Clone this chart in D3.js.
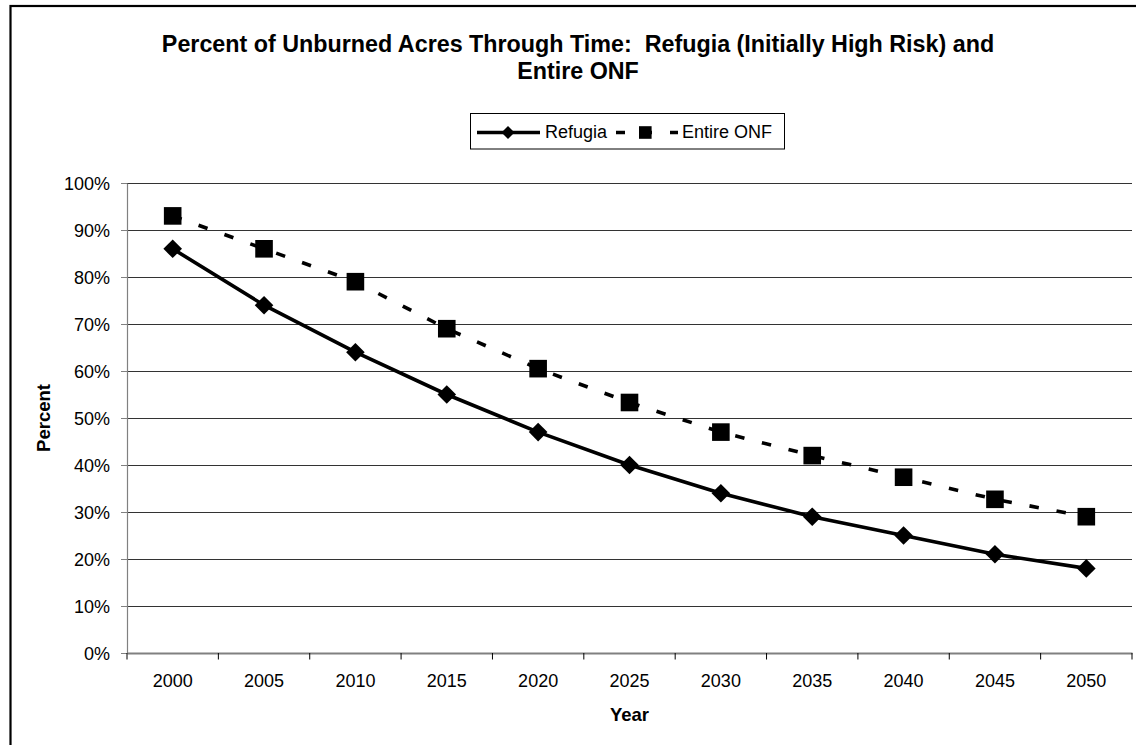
<!DOCTYPE html>
<html>
<head>
<meta charset="utf-8">
<script src="https://cdn.jsdelivr.net/npm/d3@7"></script>
<style>
  html, body { margin: 0; padding: 0; background: #fff; }
  svg { display: block; font-family: Arial, "Liberation Sans", sans-serif; }
</style>
</head>
<body>
<svg id="chart" width="1136" height="745"></svg>
<script>
// Year categories along the x axis
const years = ["2000", "2005", "2010", "2015", "2020", "2025", "2030", "2035", "2040", "2045", "2050"];
// Percent of acres still unburned (0–100)
const refugia   = [86, 74, 64, 55, 47, 40, 34, 29, 25, 21, 18];
const entireOnf = [93, 86, 79, 69, 60.5, 53.3, 47, 42, 37.4, 32.7, 29];
// Y axis tick values (fractions)
const yTicks = [0, 0.1, 0.2, 0.3, 0.4, 0.5, 0.6, 0.7, 0.8, 0.9, 1.0];
const titleLines = ["Percent of Unburned Acres Through Time:  Refugia (Initially High Risk) and", "Entire ONF"];

const svg = d3.select("#chart");
const plot = { left: 127, right: 1132, top: 183, bottom: 653 };

// Outer chart frame
svg.append("rect")
  .attr("x", 10.5).attr("y", 6).attr("width", 1200).attr("height", 800)
  .attr("fill", "#fff").attr("stroke", "#000").attr("stroke-width", 2.2);

const x = d3.scaleBand().domain(years).range([plot.left, plot.right]).paddingInner(0).paddingOuter(0);
const y = d3.scaleLinear().domain([0, 1]).range([plot.bottom, plot.top]);
const cx = d => x(d) + x.bandwidth() / 2;

// Horizontal gridlines
svg.append("g")
  .attr("transform", `translate(${plot.left},0)`)
  .call(d3.axisLeft(y).tickValues(yTicks.slice(1)).tickSize(-(plot.right - plot.left)).tickFormat(""))
  .call(g => g.select(".domain").remove())
  .call(g => g.selectAll("line").attr("stroke", "#333").attr("stroke-width", 1));

// Y axis with percent labels
svg.append("g")
  .attr("transform", `translate(${plot.left},0)`)
  .call(d3.axisLeft(y).tickValues(yTicks).tickFormat(d3.format(".0%")).tickSize(6).tickPadding(11).tickSizeOuter(0))
  .call(g => g.select(".domain").attr("stroke", "#808080").attr("stroke-width", 1.2))
  .call(g => g.selectAll("line").attr("stroke", "#808080"))
  .call(g => g.selectAll("text").attr("font-size", 18).attr("fill", "#000").attr("font-family", null).attr("dy", "0.34em"));

// X axis: category labels centred in bands, ticks at band boundaries
const xAxis = svg.append("g")
  .attr("transform", `translate(0,${plot.bottom})`)
  .call(d3.axisBottom(x).tickSize(0).tickSizeOuter(0))
  .call(g => g.select(".domain").attr("stroke", "#808080").attr("stroke-width", 2))
  .call(g => g.selectAll("text").attr("font-size", 18).attr("fill", "#000").attr("font-family", null).attr("y", 34).attr("dy", 0));
const boundaries = years.map(d => x(d)).concat([plot.right]);
xAxis.selectAll("line.boundary")
  .data(boundaries).join("line")
  .attr("class", "boundary")
  .attr("x1", d => d).attr("x2", d => d)
  .attr("y1", 0).attr("y2", 6.5)
  .attr("stroke", "#000").attr("stroke-width", 1);

// Axis titles
svg.append("text")
  .attr("x", (plot.left + plot.right) / 2).attr("y", 720.5)
  .attr("text-anchor", "middle").attr("font-weight", "bold").attr("font-size", 18.5)
  .text("Year");
svg.append("text")
  .attr("transform", `translate(49.5,${(plot.top + plot.bottom) / 2}) rotate(-90)`)
  .attr("text-anchor", "middle").attr("font-weight", "bold").attr("font-size", 18.5)
  .text("Percent");

// Chart title (two lines, double space kept)
svg.append("text")
  .attr("text-anchor", "middle").attr("font-weight", "bold").attr("font-size", 23.3)
  .style("white-space", "pre")
  .selectAll("tspan").data(titleLines).join("tspan")
  .attr("x", 578).attr("y", (d, i) => 52 + i * 27)
  .text(d => d);

// Series lines
const line = d3.line().x(d => cx(d.year)).y(d => y(d.value / 100));
const refData = years.map((yr, i) => ({ year: yr, value: refugia[i] }));
const onfData = years.map((yr, i) => ({ year: yr, value: entireOnf[i] }));

svg.append("path").datum(onfData)
  .attr("d", line).attr("fill", "none").attr("stroke", "#000")
  .attr("stroke-width", 3.6).attr("stroke-dasharray", "9.5,18");
svg.append("path").datum(refData)
  .attr("d", line).attr("fill", "none").attr("stroke", "#000")
  .attr("stroke-width", 3.6).attr("stroke-linejoin", "round");

// Markers
const diamond = s => `M0,${-s}L${s},0L0,${s}L${-s},0Z`;
svg.append("g").selectAll("path").data(refData).join("path")
  .attr("transform", d => `translate(${cx(d.year)},${y(d.value / 100)})`)
  .attr("d", diamond(9.3)).attr("fill", "#000");
svg.append("g").selectAll("rect").data(onfData).join("rect")
  .attr("x", d => cx(d.year) - 8.8).attr("y", d => y(d.value / 100) - 8.8)
  .attr("width", 17.6).attr("height", 17.6).attr("fill", "#000");

// Legend
const lg = svg.append("g");
lg.append("rect")
  .attr("x", 470.5).attr("y", 113.5).attr("width", 314).attr("height", 35.5)
  .attr("fill", "#fff").attr("stroke", "#000").attr("stroke-width", 1);
const ly = 132.5;
lg.append("line").attr("x1", 477).attr("x2", 540).attr("y1", ly).attr("y2", ly)
  .attr("stroke", "#000").attr("stroke-width", 3.6);
lg.append("path").attr("transform", `translate(508,${ly})`).attr("d", diamond(6.5)).attr("fill", "#000");
lg.append("text").attr("x", 545).attr("y", 137.5).attr("font-size", 18).text("Refugia");
lg.append("line").attr("x1", 616).attr("x2", 678).attr("y1", ly).attr("y2", ly)
  .attr("stroke", "#000").attr("stroke-width", 3.6).attr("stroke-dasharray", "9,18");
lg.append("rect").attr("x", 639).attr("y", ly - 6.3).attr("width", 12.6).attr("height", 12.6).attr("fill", "#000");
lg.append("text").attr("x", 682).attr("y", 137.5).attr("font-size", 18).text("Entire ONF");
</script>
</body>
</html>
